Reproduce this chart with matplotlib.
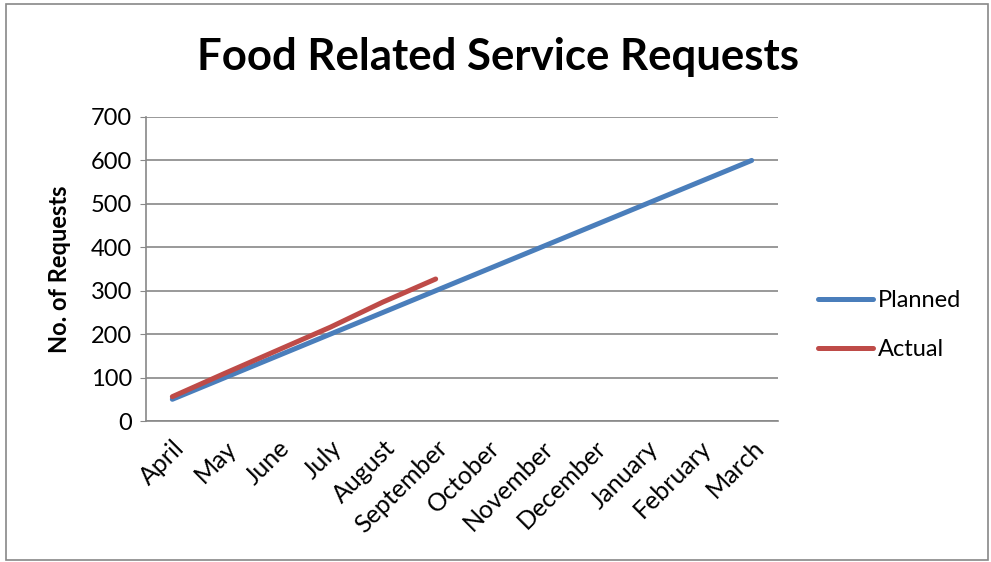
import matplotlib
matplotlib.use("Agg")
import matplotlib.pyplot as plt
from matplotlib.patches import Rectangle

plt.rcParams['font.family'] = ['Lato', 'DejaVu Sans']

months = ["April", "May", "June", "July", "August", "September", "October",
          "November", "December", "January", "February", "March"]
planned = [50, 100, 150, 200, 250, 300, 350, 400, 450, 500, 550, 600]
actual = [56, 110, 163, 216, 274, 327]
yticks = [0, 100, 200, 300, 400, 500, 600, 700]

W, H = 991, 562
fig = plt.figure(figsize=(W / 100, H / 100), dpi=100)
fig.patches.append(Rectangle((6 / W, 2 / H), 982 / W, 556 / H, transform=fig.transFigure,
                             fill=False, edgecolor="#888888", linewidth=1.2))

ax = fig.add_axes([146 / W, 1 - 421 / H, (778 - 146) / W, (421 - 117) / H])
x = list(range(len(months)))
ax.plot(x, planned, color="#4A7EBB", linewidth=3.6, solid_capstyle="round", label="Planned", zorder=3)
ax.plot(x[:len(actual)], actual, color="#BE4B48", linewidth=3.6, solid_capstyle="round", label="Actual", zorder=4)

ax.set_xlim(-0.5, len(months) - 0.5)
ax.set_ylim(0, 700)
ax.set_yticks(yticks)
ax.set_yticklabels([str(v) for v in yticks], fontsize=17)
ax.set_xticks(x)
ax.set_xticklabels(months, rotation=45, ha="right", va="top", rotation_mode="anchor", fontsize=18)
ax.tick_params(axis="x", length=0, pad=11)
ax.tick_params(axis="y", length=4, color="#888888", pad=6)
ax.grid(axis="y", color="#888888", linewidth=1.2)
ax.set_axisbelow(True)
for s in ["top", "right"]:
    ax.spines[s].set_visible(False)
for s in ["left", "bottom"]:
    ax.spines[s].set_color("#888888")
    ax.spines[s].set_linewidth(1.2)

ax.set_ylabel("No. of Requests", fontsize=17, fontweight="bold", labelpad=14)
fig.text(498 / W, 1 - 57 / H, "Food Related Service Requests", fontsize=31.5, fontweight="bold",
         ha="center", va="center")

leg = ax.legend(loc="center left", bbox_to_anchor=(818 / W, 1 - 325 / H), bbox_transform=fig.transFigure,
                frameon=False, fontsize=17, handlelength=2.35, handletextpad=0.2, labelspacing=1.17,
                borderpad=0, borderaxespad=0)

fig.savefig("out.png", dpi=100)
